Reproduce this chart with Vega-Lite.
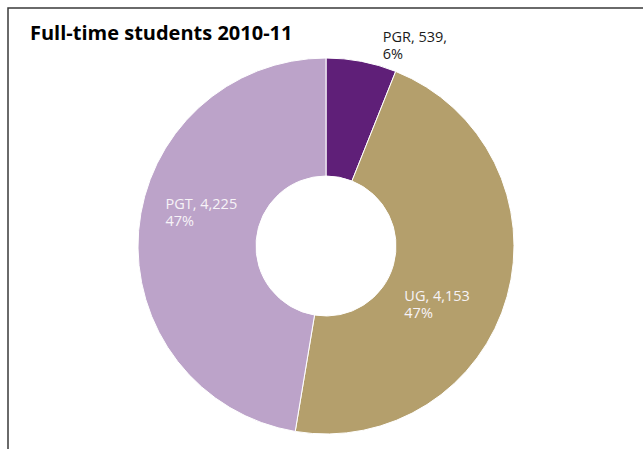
{
  "$schema": "https://vega.github.io/schema/vega-lite/v6.json",
  "width": 636,
  "height": 476,
  "autosize": "none",
  "padding": {"left": 8, "top": 8, "right": -1, "bottom": -35},
  "background": "white",
  "view": {"stroke": "#3a3a3a", "strokeWidth": 1.5, "fill": null},
  "title": {
    "text": "Full-time students 2010-11",
    "anchor": "start",
    "frame": "group",
    "orient": "top",
    "offset": -52,
    "dx": 22,
    "baseline": "alphabetic",
    "font": "Open Sans",
    "fontSize": 20,
    "fontWeight": "bold",
    "color": "#000000"
  },
  "config": {"view": {"stroke": "#3a3a3a", "strokeWidth": 1.5}},
  "data": {
    "values": [
      {"category": "PGR", "students": 539, "share": "6%", "order": 1, "label": "PGR, 539,\n6%"},
      {"category": "UG", "students": 4153, "share": "47%", "order": 2, "label": "UG, 4,153\n47%"},
      {"category": "PGT", "students": 4225, "share": "47%", "order": 3, "label": "PGT, 4,225\n47%"}
    ]
  },
  "encoding": {
    "theta": {"field": "students", "type": "quantitative", "stack": true},
    "order": {"field": "order", "type": "ordinal"},
    "detail": {"field": "category", "type": "nominal"}
  },
  "layer": [
    {
      "mark": {"type": "arc", "innerRadius": 70, "outerRadius": 188, "stroke": "#ffffff", "strokeWidth": 1},
      "encoding": {
        "color": {
          "field": "category",
          "type": "nominal",
          "scale": {"domain": ["PGR", "UG", "PGT"], "range": ["#5f1f78", "#b49f6c", "#bca3c9"]},
          "legend": null
        }
      }
    },
    {
      "mark": {"type": "text", "radius": 205, "dx": 18, "dy": -3, "align": "left", "baseline": "alphabetic", "lineBreak": "\n", "lineHeight": 17.5, "font": "Open Sans", "fontSize": 14.5, "color": "#1a1a1a"},
      "encoding": {"text": {"condition": {"test": "datum.category === 'PGR'", "field": "label"}, "value": ""}}
    },
    {
      "mark": {"type": "text", "radius": 100, "dx": -18, "dy": 28, "align": "left", "baseline": "alphabetic", "lineBreak": "\n", "lineHeight": 17.5, "font": "Open Sans", "fontSize": 14.5, "color": "#f7f3f7"},
      "encoding": {"text": {"condition": {"test": "datum.category === 'UG'", "field": "label"}, "value": ""}}
    },
    {
      "mark": {"type": "text", "radius": 150, "dx": -11, "dy": -25, "align": "left", "baseline": "alphabetic", "lineBreak": "\n", "lineHeight": 17.5, "font": "Open Sans", "fontSize": 14.5, "color": "#f7f3f7"},
      "encoding": {"text": {"condition": {"test": "datum.category === 'PGT'", "field": "label"}, "value": ""}}
    }
  ]
}
